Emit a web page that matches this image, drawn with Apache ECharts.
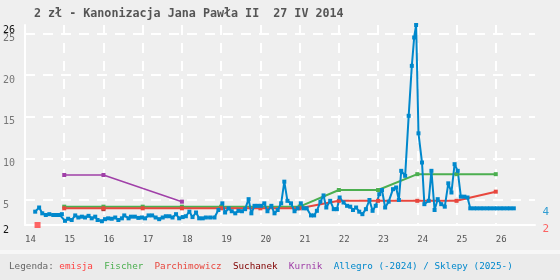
<!DOCTYPE html>
<html>
<head>
<meta charset="utf-8">
<script src="https://cdn.jsdelivr.net/npm/echarts@6/dist/echarts.min.js"></script>
<style>
  html, body { margin: 0; padding: 0; background: #efefef; }
  #chart { width: 560px; height: 280px; }
</style>
</head>
<body>
<div id="chart"></div>
<script>
// tick labels
const xTickLabels = ['14', '15', '16', '17', '18', '19', '20', '21', '22', '23', '24', '25', '26'];
const yTickValues = [5, 10, 15, 20, 25];
const yEdgeValues = [2, 26];

// emisja (issue date, face value)
const emisjaX = [14.32];
const emisjaY = [2];

// Fischer
const fischerX = [15, 16, 17, 18, 19, 20, 21, 22, 23, 24, 25, 26];
const fischerY = [4.2, 4.2, 4.2, 4.2, 4.2, 4.2, 4.2, 6.2, 6.2, 8.1, 8.1, 8.1];

// Parchimowicz
const parchX = [15, 16, 17, 18, 19, 20, 21, 22, 23, 24, 25, 26];
const parchY = [4.0, 4.0, 4.0, 4.0, 4.0, 4.0, 4.0, 4.9, 4.9, 4.9, 4.9, 6.0];

// Suchanek
const suchanekX = [16];
const suchanekY = [3.9];

// Kurnik
const kurnikX = [15, 16, 18];
const kurnikY = [8.0, 8.0, 4.8];

// Allegro (-2024) / Sklepy (2025-)
const allegroX = [
  14.26, 14.36, 14.44, 14.53, 14.62, 14.72, 14.81, 14.89, 14.94,
  15.02, 15.10, 15.19, 15.28, 15.36, 15.45, 15.53, 15.62, 15.70, 15.79, 15.85, 15.96,
  16.04, 16.12, 16.21, 16.30, 16.38, 16.47, 16.53, 16.64, 16.70, 16.80, 16.89, 16.98,
  17.06, 17.15, 17.24, 17.33, 17.42, 17.51, 17.59, 17.68, 17.76, 17.85, 17.93,
  18.02, 18.10, 18.19, 18.27, 18.36, 18.44, 18.53, 18.61, 18.72, 18.83, 18.93,
  19.03, 19.10, 19.19, 19.27, 19.36, 19.44, 19.53, 19.61, 19.70, 19.77, 19.85, 19.93,
  20.02, 20.10, 20.18, 20.28, 20.36, 20.44, 20.53, 20.61, 20.69, 20.78, 20.87, 20.95,
  21.03, 21.10, 21.18, 21.29, 21.37, 21.44, 21.53, 21.61, 21.68, 21.78, 21.87, 21.95,
  22.02, 22.12, 22.21, 22.29, 22.36, 22.44, 22.52, 22.60, 22.69, 22.78, 22.86, 22.94,
  23.03, 23.10, 23.18, 23.27, 23.38, 23.46, 23.53, 23.59, 23.69, 23.78, 23.86, 23.92, 23.97,
  24.03, 24.12, 24.18, 24.29, 24.36, 24.44, 24.52, 24.61, 24.70, 24.79, 24.87, 24.95,
  25.03, 25.11, 25.20, 25.28, 25.35, 25.44, 25.52, 25.61, 25.69, 25.78, 25.86, 25.95,
  26.03, 26.12, 26.20, 26.29, 26.37, 26.46
];
const allegroY = [
  3.6, 4.1, 3.4, 3.2, 3.3, 3.2, 3.2, 3.2, 3.3,
  2.5, 2.75, 2.6, 3.15, 2.9, 3.0, 2.9, 3.1, 2.8, 3.0, 2.6, 2.45,
  2.7, 2.8, 2.75, 2.9, 2.6, 2.8, 3.15, 2.8, 3.0, 3.0, 2.85, 2.9,
  2.8, 3.15, 3.15, 2.9, 2.7, 2.9, 3.05, 3.05, 2.9, 3.3, 2.8,
  2.95, 3.05, 3.6, 2.95, 3.5, 2.8, 2.8, 2.9, 2.9, 2.9, 3.8,
  4.6, 3.5, 4.0, 3.65, 3.4, 3.7, 3.65, 3.9, 5.1, 3.4, 4.3, 4.3,
  4.3, 4.6, 3.65, 4.3, 3.4, 3.8, 4.6, 7.2, 4.9, 4.6, 3.65, 4.0,
  4.6, 4.0, 4.0, 3.15, 3.15, 3.7, 4.8, 5.55, 4.1, 4.9, 3.9, 3.9,
  5.3, 4.7, 4.3, 4.2, 3.8, 4.1, 3.6, 3.3, 3.9, 5.0, 3.7, 4.3,
  5.7, 6.2, 4.1, 4.8, 6.3, 6.5, 5.0, 8.5, 7.9, 15.1, 21.1, 24.5, 26.0,
  13.0, 9.5, 4.5, 4.9, 8.5, 3.8, 5.1, 4.5, 4.2, 7.0, 5.9, 9.3,
  8.5, 5.4, 5.4, 5.3, 4.0, 4.0, 4.0, 4.0, 4.0, 4.0, 4.0, 4.0,
  4.0, 4.0, 4.0, 4.0, 4.0, 4.0
];

const zip = (xs, ys) => xs.map((x, i) => [x, ys[i]]);

const MONO = 'DejaVu Sans Mono';
const C_EMISJA = '#ff4040';
const C_FISCHER = '#4caf50';
const C_PARCH = '#e8473e';
const C_SUCH = '#800000';
const C_KURNIK = '#a040a8';
const C_ALLEGRO = '#0088cc';

const myChart = echarts.init(document.getElementById('chart'), null, { renderer: 'canvas' });

const lastAllegro = allegroY[allegroY.length - 1];
const lastEmisja = emisjaY[emisjaY.length - 1];

const legendItem = c => ({ color: c, fontFamily: MONO, fontSize: 9.3, fontWeight: 'normal' });

const option = {
  animation: false,
  backgroundColor: '#efefef',
  title: [
    {
      text: '2 zł - Kanonizacja Jana Pawła II  27 IV 2014',
      left: 34, top: 6, padding: 0,
      textStyle: { fontFamily: MONO, fontSize: 11.7, fontWeight: 'bold', color: '#555', lineHeight: 15 }
    },
    {
      text: 'Legenda: {e|emisja}  {f|Fischer}  {p|Parchimowicz}  {s|Suchanek}  {k|Kurnik}  {a|Allegro (-2024) / Sklepy (2025-)}',
      left: 9, top: 260, padding: 0,
      textStyle: {
        fontFamily: MONO, fontSize: 9.3, fontWeight: 'normal', color: '#666', lineHeight: 13,
        rich: {
          e: legendItem(C_EMISJA),
          f: legendItem(C_FISCHER),
          p: legendItem(C_PARCH),
          s: legendItem(C_SUCH),
          k: legendItem(C_KURNIK),
          a: legendItem(C_ALLEGRO)
        }
      }
    }
  ],
  graphic: [
    { type: 'rect', left: 0, top: 250, z: -1, shape: { width: 560, height: 4 }, style: { fill: '#f7f7f7' } },
    { type: 'rect', left: 0, top: 254, z: -1, shape: { width: 560, height: 26 }, style: { fill: '#ebebeb' } }
  ],
  grid: { left: 25, right: 25, top: 25, bottom: 55 },
  xAxis: {
    type: 'value', min: 14, max: 27, interval: 1,
    axisLine: { show: true, onZero: false, lineStyle: { color: '#fff', width: 2 } },
    axisTick: { show: false },
    axisLabel: {
      align: 'left', margin: 10, fontSize: 9, color: '#555', fontFamily: MONO,
      showMaxLabel: false,
      formatter: (v, i) => xTickLabels[i] || ''
    },
    splitLine: { show: true, showMinLine: false, showMaxLine: false, lineStyle: { color: '#fff', width: 2, type: [10, 8] } }
  },
  yAxis: [
    {
      type: 'value', min: 2, max: 26, interval: 1,
      axisLine: { show: true, lineStyle: { color: '#fff', width: 2 } },
      axisTick: { show: false },
      axisLabel: {
        align: 'left', verticalAlign: 'top', margin: 22, fontSize: 10, fontFamily: MONO, color: '#777',
        formatter: v => yTickValues.includes(v) ? String(v) : ''
      },
      splitLine: {
        show: true,
        lineStyle: { color: ['transparent', 'transparent', 'transparent', '#fff', 'transparent'], width: 2, type: [10, 8] }
      }
    },
    {
      // min / max labels drawn darker, on the same left edge
      type: 'value', position: 'left', offset: 0, min: 2, max: 26, interval: 24,
      axisLine: { show: false },
      axisTick: { show: false },
      splitLine: { show: false },
      axisLabel: {
        align: 'left', verticalAlign: 'top', margin: 22, fontSize: 10, fontFamily: MONO, color: '#111',
        showMinLabel: true, showMaxLabel: true,
        formatter: v => yEdgeValues.includes(v) ? String(v) : ''
      }
    }
  ],
  series: [
    {
      name: 'emisja', type: 'scatter', symbol: 'rect', symbolSize: 6,
      itemStyle: { color: C_EMISJA }, data: zip(emisjaX, emisjaY)
    },
    {
      name: 'Fischer', type: 'line', symbol: 'rect', symbolSize: 4, showAllSymbol: true,
      itemStyle: { color: C_FISCHER }, lineStyle: { color: C_FISCHER, width: 2 },
      data: zip(fischerX, fischerY)
    },
    {
      name: 'Parchimowicz', type: 'line', symbol: 'rect', symbolSize: 4, showAllSymbol: true,
      itemStyle: { color: C_PARCH }, lineStyle: { color: C_PARCH, width: 2 },
      data: zip(parchX, parchY)
    },
    {
      name: 'Suchanek', type: 'scatter', symbol: 'rect', symbolSize: 4,
      itemStyle: { color: C_SUCH }, data: zip(suchanekX, suchanekY)
    },
    {
      name: 'Kurnik', type: 'line', symbol: 'rect', symbolSize: 4, showAllSymbol: true,
      itemStyle: { color: C_KURNIK }, lineStyle: { color: C_KURNIK, width: 1.5 },
      data: zip(kurnikX, kurnikY)
    },
    {
      name: 'Allegro', type: 'line', symbol: 'rect', symbolSize: 4, showAllSymbol: true,
      itemStyle: { color: C_ALLEGRO }, lineStyle: { color: C_ALLEGRO, width: 2 },
      data: zip(allegroX, allegroY)
    },
    {
      name: 'end', type: 'scatter', symbolSize: 1, silent: true,
      itemStyle: { color: 'transparent' },
      label: {
        show: true, position: [8, -1], fontFamily: MONO, fontSize: 11,
        formatter: p => String(p.value[1])
      },
      data: [
        { value: [27, lastAllegro], label: { color: C_ALLEGRO } },
        { value: [27, lastEmisja], label: { color: C_EMISJA } }
      ]
    }
  ]
};

myChart.setOption(option);
</script>
</body>
</html>
